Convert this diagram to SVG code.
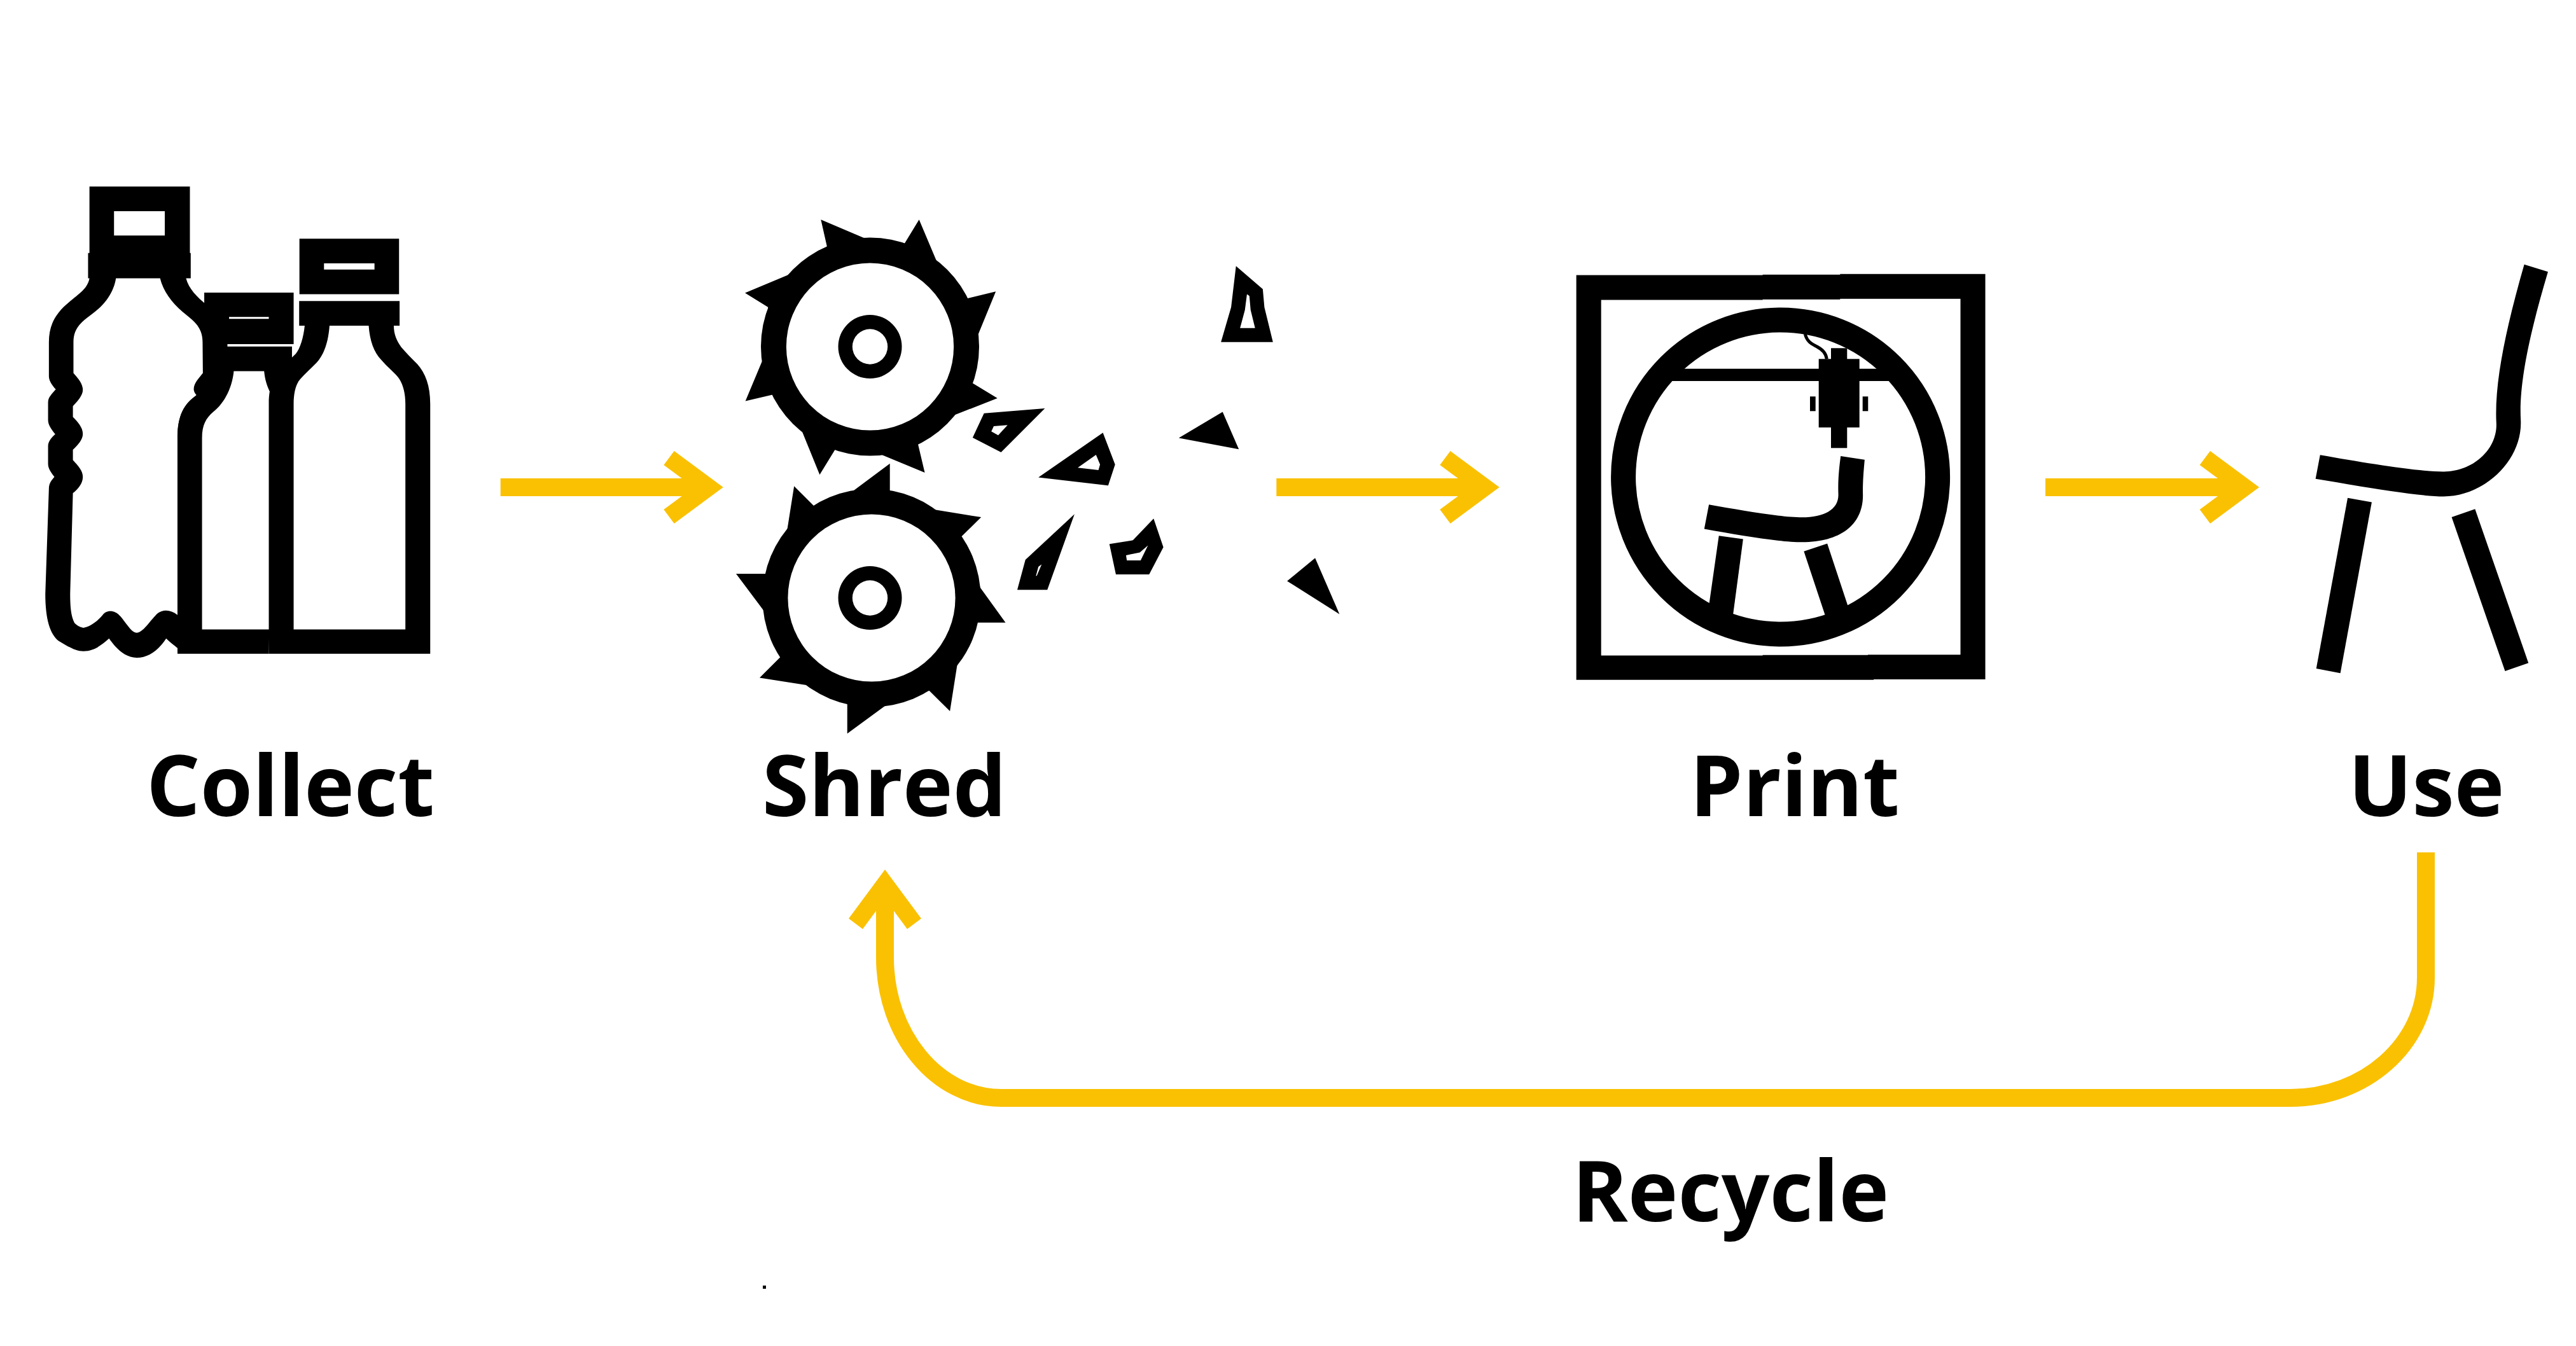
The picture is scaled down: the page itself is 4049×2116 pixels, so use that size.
<svg xmlns="http://www.w3.org/2000/svg" width="4049" height="2116" viewBox="0 0 4049 2116">
<style>
.k{fill:#000}
.w{fill:#fff}
.eo{fill:#000;fill-rule:evenodd}
.lbl{font-family:"Open Sans","Liberation Sans",sans-serif;font-weight:700;font-size:133px;fill:#000}
.link{fill:none;stroke:#fac102;stroke-width:28;marker-end:url(#head)}
</style>
<defs>
<marker id="head" markerUnits="userSpaceOnUse" viewBox="-100 -60 100 120" refX="-40" refY="0" markerWidth="100" markerHeight="120" orient="auto">
<path d="M0 0L-77 -57L-93.4 -35L-65 -14V14L-93.4 35L-77 57Z" fill="#fac102"/>
</marker>
</defs>
<rect width="4049" height="2116" fill="#fff"/>
<g id="collect">
<g transform="translate(40 260) scale(.4337 .5102)">
<path class="k" d="M232 65H596V270H599V348H582C592 380 620 405 660 432C710 465 732 500 732 545V700L600 800L551 1487C540 1480 525 1470 510 1458C485 1490 450 1517 403 1517C360 1517 325 1485 303 1458C275 1478 250 1497 210 1497C180 1497 150 1480 120 1465C90 1445 72 1400 72 1320L85 995C85 980 95 970 105 960C95 948 82 935 82 920V865C82 850 95 838 108 828C95 815 82 800 82 785V730C82 715 95 705 110 690C100 680 85 665 85 650V545C85 490 110 455 160 420C195 395 225 380 232 348H227V270H232Z"/>
<path class="w" d="M321 141H505V216H321Z"/>
<path class="w" d="M328 348H488C500 390 535 430 585 462C625 488 642 510 642 545L643 640C630 655 610 670 610 690C610 697 615 703 620 708C575 735 551 770 551 840V1385C520 1365 490 1368 470 1388C450 1405 425 1440 403 1440C385 1440 365 1410 345 1390C320 1365 290 1372 280 1385C265 1400 240 1420 210 1425C195 1422 185 1416 178 1410C165 1390 162 1360 162 1320L172 1010C190 998 208 980 208 960C208 940 190 925 172 908V876C190 862 208 845 208 827C208 808 190 790 172 775V742C185 730 208 710 208 692C208 675 195 660 174 640V545C174 510 190 490 235 462C290 430 320 390 328 348Z"/>
<path class="k" d="M733 558H966V634L900 720L882 1505H551V840C551 770 575 735 620 708L660 640L690 558Z"/>
<path class="k" d="M648 392H972V551H648Z"/>
<path class="w" d="M738 467H882V473H738Z"/>
<path class="w" d="M755 634H865C868 660 875 680 890 705V1430H640V840C640 800 655 778 680 760C725 730 750 680 755 634Z"/>
<path class="k" d="M993 226H1354V397H993Z"/>
<path class="w" d="M1082 302H1265V321H1082Z"/>
<path class="k" d="M992 418H1356V494H1335C1335 520 1345 540 1362 560C1380 578 1400 595 1420 612C1450 640 1467 680 1467 735V1505H882V735C882 670 905 640 950 605L980 580C995 565 1008 530 1012 494H992Z"/>
<path class="w" d="M1102 494H1244C1248 540 1262 575 1290 600C1310 620 1340 640 1355 658C1370 678 1377 705 1377 735V1430H972V735C972 705 978 682 990 665C1005 648 1030 630 1055 608C1085 580 1098 540 1102 494Z"/>
</g>
<text class="lbl" x="230" y="1282.7">Collect</text>
</g>
<g id="shred">
<g transform="translate(1120 320) scale(.6378 .5485)">
<path class="k" d="M267 46L372 98L473 115L509 46L551 162L627 272L698 252L654 377L640 514L702 558L594 607L506 688L523 771L417 720L302 705L264 777L221 654L148 548L81 566L122 452L137 297L80 256L185 205L282 123Z"/>
<path class="k" d="M201 810L250 867L345 825L437 745V824L550 878L662 899L613 955L660 1101L722 1201H652L603 1322L585 1455L534 1396L425 1440L332 1519V1434L231 1380L116 1359L167 1300L127 1168L58 1061H132L184 935Z"/>
<path class="eo" d="M669 601L819 587L711 713L641 671ZM693 638L687 653L704 664L727 635Z"/>
<path class="eo" d="M962 657L992 748L975 808L803 785ZM945 720L900 757L951 764L955 748Z"/>
<path class="eo" d="M892 890L825 1107H751L771 1021ZM811 1034L803 1041L797 1067H799Z"/>
<path class="eo" d="M1087 903L1111 985L1076 1063H994L978 976L1036 965ZM1073 980L1053 1000L1019 1008L1021 1023H1055Z"/>
<path class="eo" d="M1290 179L1356 245L1360 297L1381 397H1253L1278 297ZM1317 260L1312 305L1300 357H1337L1326 305L1323 265Z"/>
<path class="k" d="M1257 597L1297 704L1149 672Z"/>
<path class="k" d="M1485 1016L1545 1177L1416 1082Z"/>
</g>
<circle class="k" cx="1367.5" cy="545" r="171.5"/>
<circle class="w" cx="1367.5" cy="545" r="131.6"/>
<circle class="k" cx="1367.5" cy="545" r="50"/>
<circle class="w" cx="1367.5" cy="545" r="27.7"/>
<circle class="k" cx="1370" cy="940" r="171.5"/>
<circle class="w" cx="1370" cy="940" r="131.6"/>
<circle class="k" cx="1367.5" cy="940" r="50"/>
<circle class="w" cx="1367.5" cy="940" r="27.7"/>
<rect class="k" x="1199" y="2021" width="5" height="5"/>
<text class="lbl" x="1198" y="1282.7">Shred</text>
</g>
<g id="print">
<rect class="k" x="2623.7" y="579.7" width="349" height="19.3"/>
<circle cx="2798.6" cy="750" r="247" fill="none" stroke="#000" stroke-width="39"/>
<g transform="translate(2440 400) scale(.4592 .4337)">
<path class="eo" d="M82 75H720V73H985V71H1482V1540H1100V1542H82ZM167 165V1454H720V1452H1080V1451H1397V161H985V163H720V165Z"/>
<path class="k" d="M536 907C650 928 780 953 855 953C930 953 980 925 979 870C977 820 982 770 987 731L1069 744C1065 790 1062 830 1063 870C1065 980 985 1043 855 1043C780 1043 640 1018 520 995Z"/>
<path class="k" d="M570 1020L653 1032L618 1310L535 1280Z"/>
<path class="k" d="M861 1076L941 1048L1015 1285L935 1312Z"/>
</g>
<path d="M2837.3 525C2840.7 538.3 2848.3 540.7 2856 545C2865 550 2870 555 2871.3 564.3" fill="none" stroke="#000" stroke-width="5"/>
<rect class="k" x="2878" y="547.3" width="25.3" height="157"/>
<rect class="k" x="2858.7" y="564.3" width="64" height="107.7"/>
<rect class="k" x="2845" y="623.3" width="8.7" height="23"/>
<rect class="k" x="2927.7" y="623.3" width="8.6" height="23"/>
<text class="lbl" x="2656" y="1282.7">Print</text>
</g>
<g id="use">
<g transform="translate(3180 380) scale(.5485 .4592)">
<path class="k" d="M851 730C980 757 1130 787 1205 787C1290 787 1360 710 1356 620C1350 480 1385 290 1436 78L1504 103C1455 300 1420 480 1426 610C1432 750 1320 872 1205 872C1130 872 980 840 838 812Z"/>
<path class="k" d="M930 877L999 892L909 1477L840 1461Z"/>
<path class="k" d="M1228 943L1295 915L1448 1442L1381 1470Z"/>
</g>
<text class="lbl" x="3691" y="1282.7">Use</text>
</g>
<g id="connectors">
<path class="link" d="M786.7 766H1096.7"/>
<path class="link" d="M2006.3 766H2316.7"/>
<path class="link" d="M3215 766H3511"/>
<path class="link" d="M3813 1340V1537C3813 1641 3717 1726 3600 1726H1574C1473 1726 1391 1627 1391 1505V1407"/>
</g>
<text id="recycle-label" class="lbl" x="2471" y="1920">Recycle</text>
</svg>
